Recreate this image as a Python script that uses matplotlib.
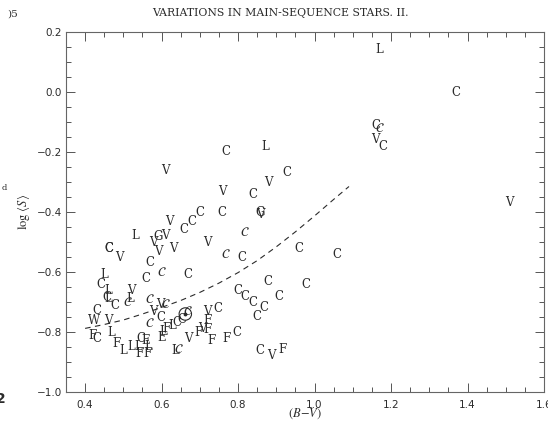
import matplotlib
matplotlib.use("Agg")
import matplotlib.pyplot as plt
from matplotlib.ticker import MultipleLocator

plt.rcParams['mathtext.fontset'] = 'stix'

# ---- data: (B-V) and log<S> for each symbol class ----
bv_C = [1.370, 1.160, 1.178, 0.768, 0.928, 0.839, 0.701, 0.758, 0.659, 0.680,
        0.461, 0.463, 0.570, 0.811, 0.959, 1.058, 0.669, 0.559, 0.878, 0.978,
        0.800, 0.818, 0.839, 0.868, 0.907, 0.849, 0.440, 0.479, 0.599, 0.432,
        0.432, 0.547, 0.640, 0.654, 0.748, 0.798, 0.857, 0.458]
logS_C = [-0.003, -0.113, -0.183, -0.197, -0.270, -0.340, -0.400, -0.403, -0.457, -0.433,
          -0.520, -0.522, -0.567, -0.550, -0.520, -0.540, -0.607, -0.623, -0.633, -0.643,
          -0.660, -0.680, -0.700, -0.717, -0.683, -0.747, -0.643, -0.713, -0.750, -0.727,
          -0.823, -0.820, -0.767, -0.757, -0.720, -0.803, -0.860, -0.685]

bv_V = [1.160, 1.510, 0.609, 0.878, 0.758, 0.620, 0.578, 0.610, 0.719, 0.489,
        0.591, 0.630, 0.520, 0.596, 0.578, 0.460, 0.670, 0.719, 0.706, 0.888, 0.857]
logS_V = [-0.157, -0.370, -0.263, -0.303, -0.333, -0.433, -0.500, -0.477, -0.503, -0.550,
          -0.533, -0.523, -0.660, -0.710, -0.733, -0.763, -0.820, -0.733, -0.787, -0.877, -0.410]

bv_L = [1.168, 0.870, 0.531, 0.450, 0.460, 0.460, 0.518, 0.468, 0.500, 0.521,
        0.539, 0.565, 0.604, 0.627, 0.635]
logS_L = [0.143, -0.183, -0.477, -0.610, -0.663, -0.688, -0.687, -0.803, -0.863, -0.850,
          -0.850, -0.850, -0.797, -0.777, -0.860]

bv_F = [0.419, 0.481, 0.542, 0.562, 0.614, 0.719, 0.719, 0.696, 0.730, 0.769, 0.917]
logS_F = [-0.810, -0.837, -0.870, -0.870, -0.787, -0.760, -0.793, -0.803, -0.827, -0.820, -0.857]

bv_E = [0.557, 0.601]
logS_E = [-0.827, -0.817]

bv_W = [0.424]
logS_W = [-0.763]

bv_G = [0.857, 0.591]
logS_G = [-0.400, -0.480]

bv_script = [1.171, 0.818, 0.768, 0.601, 0.513, 0.570, 0.612, 0.570, 0.670, 0.646]
logS_script = [-0.123, -0.467, -0.543, -0.600, -0.703, -0.693, -0.710, -0.770, -0.733, -0.857]

bv_sun = [0.662]
logS_sun = [-0.740]

# dashed reference curve
curve_bv = [0.40, 0.45, 0.50, 0.55, 0.60, 0.65, 0.70, 0.75, 0.80, 0.85,
            0.90, 0.95, 1.00, 1.05, 1.09]
curve_logS = [-0.788, -0.775, -0.760, -0.740, -0.718, -0.695, -0.668, -0.637, -0.602, -0.562,
              -0.516, -0.466, -0.413, -0.358, -0.315]

x_ticks = [0.4, 0.6, 0.8, 1.0, 1.2, 1.4, 1.6]
x_ticklabels = ['0.4', '0.6', '0.8', '1.0', '1.2', '1.4', '1.6']
y_ticks = [-1.0, -0.8, -0.6, -0.4, -0.2, 0.0, 0.2]
y_ticklabels = ['\u22121.0', '\u22120.8', '\u22120.6', '\u22120.4', '\u22120.2', '0.0', '0.2']

INK = '#2b2b2b'
W, H = 548, 423

fig = plt.figure(figsize=(W / 100, H / 100), dpi=100)
fig.patch.set_facecolor('white')
ax = fig.add_axes([66 / W, 1 - 392 / H, (544 - 66) / W, (392 - 32) / H])

ax.set_xlim(0.35, 1.6)
ax.set_ylim(-1.0, 0.2)

for s in ax.spines.values():
    s.set_color('#666666')
    s.set_linewidth(0.8)

ax.set_xticks(x_ticks)
ax.set_xticklabels(x_ticklabels)
ax.set_yticks(y_ticks)
ax.set_yticklabels(y_ticklabels)
ax.xaxis.set_minor_locator(MultipleLocator(0.05))
ax.yaxis.set_minor_locator(MultipleLocator(0.05))
ax.tick_params(which='both', direction='in', top=True, right=True,
               color='#555555', width=0.7, labelcolor=INK, labelsize=7.5)
ax.tick_params(which='major', length=6.5)
ax.tick_params(which='minor', length=3.5)
ax.tick_params(axis='x', which='major', pad=6)
ax.tick_params(axis='y', which='major', pad=3)

# dashed curve
ax.plot(curve_bv, curve_logS, linestyle=(0, (5, 4)), color=INK, linewidth=0.8)

letter_kw = dict(ha='center', va='center', fontsize=8.5, color=INK,
                 family='DejaVu Serif', clip_on=False)

groups = [('C', bv_C, logS_C), ('V', bv_V, logS_V), ('L', bv_L, logS_L),
          ('F', bv_F, logS_F), ('E', bv_E, logS_E), ('W', bv_W, logS_W),
          ('G', bv_G, logS_G)]
for letter, xs, ys in groups:
    for xv, yv in zip(xs, ys):
        ax.text(xv, yv, letter, **letter_kw)

for xv, yv in zip(bv_script, logS_script):
    ax.text(xv, yv, r'$\mathcal{C}$', ha='center', va='center', fontsize=9.5, color=INK)

ax.scatter(bv_sun, logS_sun, s=80, facecolors='none', edgecolors=INK, linewidths=0.8)
ax.scatter(bv_sun, logS_sun, s=3, color=INK)

# axis labels
ax.set_xlabel(r'$(B\!-\!V)$', fontsize=9, color=INK)
ax.xaxis.set_label_coords(0.5, -(406 - 392) / (392 - 32))
ax.xaxis.label.set_va('top')
ax.set_ylabel(r'$\log\,\langle S\rangle$', fontsize=9, color=INK)
ax.yaxis.set_label_coords((24 - 66) / (544 - 66), 0.5)
ax.yaxis.label.set_va('center')

# page fragments
fig.text(280 / W, 1 - 13 / H, 'VARIATIONS IN MAIN-SEQUENCE STARS. II.',
         ha='center', va='center', family='DejaVu Serif', fontsize=7.8, color=INK)
fig.text(7 / W, 1 - 14 / H, ')5', ha='left', va='center', family='DejaVu Serif',
         fontsize=7.5, color=INK)
fig.text(2 / W, 1 - 188 / H, 'd', ha='left', va='center', family='DejaVu Serif',
         fontsize=6, color=INK)
fig.text(-4 / W, 1 - 399 / H, '2', ha='left', va='center', family='DejaVu Sans',
         fontsize=10, fontweight='bold', color=INK)

fig.savefig('out.png', dpi=100, facecolor='white')
